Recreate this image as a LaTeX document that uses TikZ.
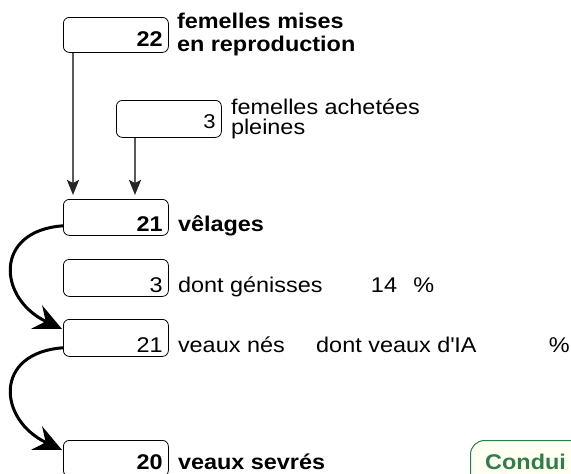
\documentclass[tikz,border=0pt]{standalone}
\usepackage{fontspec}
\setmainfont[FakeStretch=1.1]{Liberation Sans}
\usepackage{tikz}
\usetikzlibrary{calc}
\usetikzlibrary{arrows.meta}
\usetikzlibrary{positioning}
\definecolor{condgreen}{HTML}{2E7D4A}
\definecolor{condfill}{HTML}{FFFFF2}

\begin{document}
\begin{tikzpicture}[
		x=1pt,y=-1pt,
		MyBox/.style={draw=black,line width=0.8pt,rounded corners=6pt,minimum width=105pt,minimum height=36pt,inner sep=0pt,anchor=north west},
		MyNum/.style={anchor=base east,inner sep=0pt,font=\fontsize{21.3}{23}\selectfont},
		MyLabel/.style={anchor=base west,inner sep=0pt,align=left,font=\fontsize{21.3}{23}\selectfont},
		SmallNum/.style={font=\fontsize{20}{21}\selectfont},
		Feed/.style={draw=black!65,line width=2.4pt,-{Stealth[length=15pt,width=12pt,inset=3pt,black!85]},shorten >=4pt},
		Loop/.style={draw=black,line width=3pt,-{Stealth[length=28pt,width=26pt,inset=10pt]}},
		CondBox/.style={draw=condgreen,fill=condfill,line width=1pt,rounded corners=14pt,minimum width=150pt,minimum height=60pt,inner sep=0pt,anchor=north west}
		]

		\useasboundingbox (0,0) rectangle (571,474);
		\clip (0,0) rectangle (571,474);

		% boxes
		\node[MyBox, minimum height=35pt] (b1) at (63,17) {};
		\node[MyBox, minimum height=37pt] (b2) at (116,100) {};
		\node[MyBox] (b3) at (63,199) {};
		\node[MyBox, minimum height=37pt] (b4) at (63,259) {};
		\node[MyBox, minimum height=37pt] (b5) at (63,319) {};
		\node[MyBox] (b6) at (63,440) {};

		% numbers
		\node[MyNum] (n1) at ($(b1.south east)+(-6,-6)$) {\textbf{22}};
		\node[MyNum, SmallNum] (n2) at ($(b2.south east)+(-6,-9)$) {3};
		\node[MyNum] (n3) at ($(b3.south east)+(-6,-4)$) {\textbf{21}};
		\node[MyNum] (n4) at ($(b4.south east)+(-6,-4)$) {3};
		\node[MyNum] (n5) at ($(b5.south east)+(-6,-4)$) {21};
		\node[MyNum] (n6) at ($(b6.south east)+(-6,-7)$) {\textbf{20}};

		% labels
		\node[MyLabel] (l1) at ($(b1.north east)+(8,34)$) {\textbf{femelles mises}\\\textbf{en reproduction}};
		\node[MyLabel, font=\fontsize{21.3}{20}\selectfont] (l2) at ($(b2.north east)+(9,34)$) {femelles achetées\\pleines};
		\node[MyLabel] (l3) at ($(b3.south east)+(9,-4)$) {\textbf{vêlages}};
		\node[MyLabel] (l4) at ($(b4.south east)+(9,-4)$) {dont génisses};
		\node[MyLabel, base right=48pt of l4] (g4) {14};
		\node[MyLabel, base right=16pt of g4] (p4) {\%};
		\node[MyLabel] (l5) at ($(b5.south east)+(9,-4)$) {veaux nés};
		\node[MyLabel, base right=31pt of l5] (ia5) {dont veaux d\textquotesingle IA};
		\node[MyLabel, base right=72pt of ia5] (p5) {\%};
		\node[MyLabel] (l6) at ($(b6.south east)+(9,-7)$) {\textbf{veaux sevrés}};

		% straight arrows into the calvings
		\draw[Feed] ([xshift=10pt]b1.south west) -- ([xshift=10pt]b1.south west |- b3.north);
		\draw[Feed] ([xshift=19pt]b2.south west) -- ([xshift=19pt]b2.south west |- b3.north);

		% round arrows
		\draw[Loop] ($(b3.south west)+(0,-10)$) .. controls +(-70,5) and +(-64,-30) .. ($(b5.north west)+(-1,10)$);
		\draw[Loop] ($(b5.south west)+(0,-9)$) .. controls +(-70,5) and +(-64,-30) .. ($(b6.north west)+(-1,10)$);

		\node[CondBox] (cond) at (470,440) {};
		\node[anchor=base west,inner sep=0pt,text=condgreen,font=\fontsize{21.3}{23}\selectfont\bfseries] (ct) at ($(cond.north west)+(15,29)$) {Condui};

\end{tikzpicture}
\end{document}
